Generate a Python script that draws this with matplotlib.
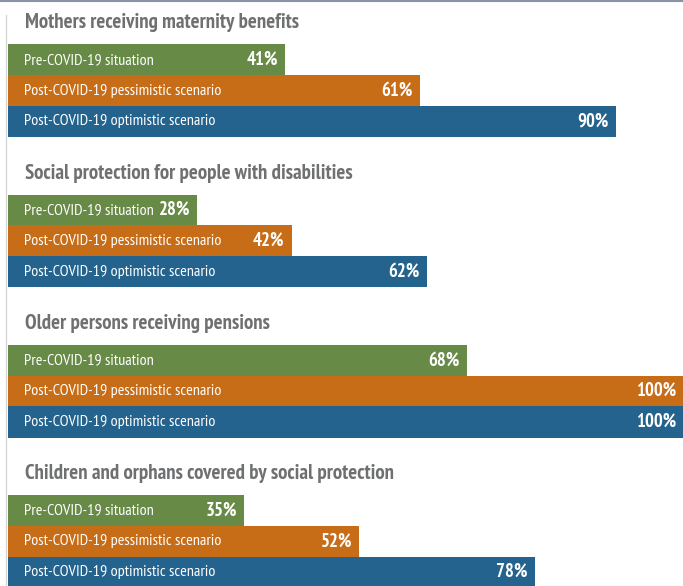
import matplotlib
matplotlib.use("Agg")
import matplotlib.pyplot as plt

groups = ["Mothers receiving maternity benefits",
          "Social protection for people with disabilities",
          "Older persons receiving pensions",
          "Children and orphans covered by social protection"]
scenarios = ["Pre-COVID-19 situation",
             "Post-COVID-19 pessimistic scenario",
             "Post-COVID-19 optimistic scenario"]
pre = [41, 28, 68, 35]
pess = [61, 42, 100, 52]
opt = [90, 62, 100, 78]

colors = ["#688a47", "#c76c17", "#24638d"]
title_color = "#6f7072"
FONT = ["PT Sans Narrow", "Open Sans Condensed", "DejaVu Sans"]

W, H = 683, 586
fig = plt.figure(figsize=(W / 100, H / 100), dpi=100)
ax = fig.add_axes([0, 0, 1, 1])
x0 = 8  # pixel where 0% starts
scale = (W - x0) / 100.0
ax.set_xlim(-x0 / scale, 100)
ax.set_ylim(H, 0)
ax.axis("off")

bar_h = 30.7
group_gap = 150.3
first_top = 44.5
series = [pre, pess, opt]

for g, gname in enumerate(groups):
    top = first_top + g * group_gap
    ax.text(17 / scale, top - 21.5, gname, fontsize=15, fontweight="bold",
            color=title_color, family=FONT, va="center", ha="left")
    for i, (sname, vals) in enumerate(zip(scenarios, series)):
        yc = top + bar_h * (i + 0.5)
        v = vals[g]
        ax.barh(yc, v, height=bar_h + 0.6, left=0, color=colors[i], edgecolor="none")
        ax.text(16 / scale, yc, sname, fontsize=11.6, color="white", family=FONT,
                va="center", ha="left")
        ax.text(v - 7 / scale, yc, f"{v}%", fontsize=13.5, fontweight="bold",
                color="white", family=FONT, va="center", ha="right")

# top rule and left rule
ax.plot([-x0 / scale, 100], [1, 1], color="#8a93a6", lw=1.5, clip_on=False)
ax.plot([-2 / scale, -2 / scale], [15, H], color="#d8d8d8", lw=1.0)

fig.savefig("out.png", dpi=100)
